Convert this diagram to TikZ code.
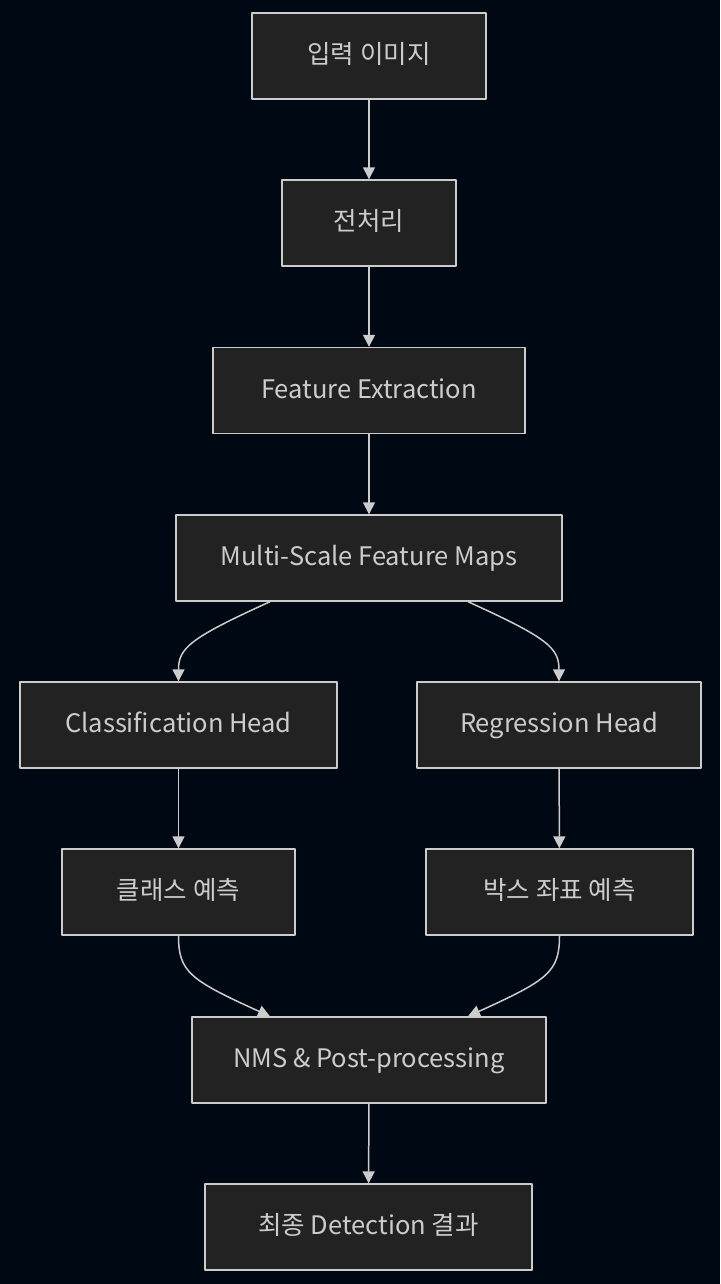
\documentclass[tikz,border=0pt]{standalone}
\usepackage{fontspec}
\setmainfont{Noto Sans CJK KR}
\usetikzlibrary{arrows.meta}
\definecolor{bgc}{HTML}{000814}
\definecolor{boxc}{HTML}{222222}
\definecolor{linec}{HTML}{CCCCCC}
\tikzset{
  stage/.style={draw=linec, fill=boxc, line width=1.4pt, text=linec, minimum height=86pt, inner sep=0pt, text height=20pt, text depth=5pt, font=\fontsize{25.5}{30}\selectfont},
  flow/.style={draw=linec, line width=1.5pt, -{Triangle[length=12pt,width=12pt]}}
}
\begin{document}
\begin{tikzpicture}[x=1pt, y=-1pt, line join=round]
			\fill[bgc] (0,0) rectangle (720,1284);
			\useasboundingbox (0,0) rectangle (720,1284);
			
			% nodes
			\node[stage, minimum width=234pt] (img) at (369,56) {입력 이미지};
			\node[stage, minimum width=174pt] (pre) at (369,223) {전처리};
			\node[stage, minimum width=312pt] (feat) at (369,390.5) {Feature Extraction};
			\node[stage, minimum width=386pt] (maps) at (369,558) {Multi-Scale Feature Maps};
			\node[stage, minimum width=317pt] (cls) at (178.5,725) {Classification Head};
			\node[stage, minimum width=284pt] (reg) at (559,725) {Regression Head};
			\node[stage, minimum width=233pt] (clsp) at (178.5,892) {클래스 예측};
			\node[stage, minimum width=267pt] (boxp) at (559.5,892) {박스 좌표 예측};
			\node[stage, minimum width=354pt] (nms) at (369,1060) {NMS \& Post-processing};
			\node[stage, minimum width=327pt] (final) at (368.5,1227) {최종 Detection 결과};
			
			% edges
			\draw[flow] (img) -- (pre);
			\draw[flow] (pre) -- (feat);
			\draw[flow] (feat) -- (maps);
			\draw[flow] (maps.south) ++(-99,0) coordinate (m1) .. controls (190,638) and (178.5,648) .. (cls.north);
			\draw[flow] (maps.south) ++(99,0) coordinate (m2) .. controls (548,638) and (559,648) .. (reg.north);
			\draw[flow] (cls) -- (clsp);
			\draw[flow] (reg) -- (boxp);
			\draw[flow] (clsp.south) .. controls (178.5,972) and (190,980) .. ([xshift=-99pt]nms.north);
			\draw[flow] (boxp.south) .. controls (559.5,972) and (548,980) .. ([xshift=99pt]nms.north);
			\draw[flow] (nms) -- (final);
\end{tikzpicture}
\end{document}
